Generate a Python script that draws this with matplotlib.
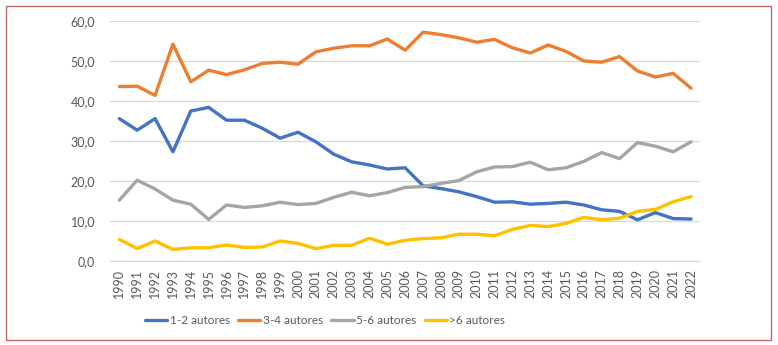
import matplotlib
matplotlib.use("Agg")
import matplotlib.pyplot as plt
from matplotlib.patches import Rectangle

years = list(range(1990, 2023))
autores_1_2 = [35.6, 32.7, 35.6, 27.3, 37.5, 38.4, 35.2, 35.2, 33.2, 30.7, 32.2, 29.8, 26.7, 24.8,
               24.0, 23.0, 23.3, 18.8, 18.1, 17.3, 16.1, 14.7, 14.8, 14.2, 14.4, 14.7, 14.0, 12.8,
               12.4, 10.3, 12.1, 10.6, 10.5]
autores_3_4 = [43.6, 43.7, 41.4, 54.2, 44.8, 47.7, 46.6, 47.8, 49.4, 49.7, 49.2, 52.3, 53.2, 53.8,
               53.8, 55.5, 52.7, 57.2, 56.6, 55.8, 54.7, 55.4, 53.3, 52.0, 54.0, 52.4, 50.0, 49.7,
               51.1, 47.5, 46.0, 46.9, 43.2]
autores_5_6 = [15.2, 20.2, 18.0, 15.2, 14.2, 10.4, 14.0, 13.4, 13.8, 14.7, 14.1, 14.4, 15.9, 17.2,
               16.3, 17.1, 18.4, 18.6, 19.4, 20.1, 22.3, 23.5, 23.6, 24.7, 22.8, 23.3, 24.9, 27.1,
               25.6, 29.6, 28.7, 27.3, 29.8]
autores_mas6 = [5.4, 3.1, 5.0, 2.9, 3.3, 3.3, 4.0, 3.4, 3.5, 5.0, 4.4, 3.1, 3.9, 3.9,
                5.7, 4.2, 5.2, 5.6, 5.8, 6.7, 6.7, 6.3, 7.9, 8.9, 8.6, 9.4, 10.9, 10.3,
                10.7, 12.4, 12.9, 14.8, 16.1]
series_labels = ["1-2 autores", "3-4 autores", "5-6 autores", ">6 autores"]
yticks = [0, 10, 20, 30, 40, 50, 60]

colors = ["#4472C4", "#ED7D31", "#A5A5A5", "#FFC000"]

plt.rcParams['font.family'] = ['Lato', 'DejaVu Sans']

fig = plt.figure(figsize=(7.78, 3.45), dpi=100)
ax = fig.add_axes([110.4 / 778, 1 - 261 / 345, (700 - 110.4) / 778, (261 - 21) / 345])

x = list(range(len(years)))
for data, lab, c in zip([autores_1_2, autores_3_4, autores_5_6, autores_mas6], series_labels, colors):
    ax.plot(x, data, color=c, lw=2.4, label=lab, solid_capstyle='round', solid_joinstyle='round')

ax.set_xlim(-0.5, len(years) - 0.5)
ax.set_ylim(0, 60)
ax.set_yticks(yticks)
ax.set_yticklabels([f"{v:.1f}".replace('.', ',') for v in yticks], fontsize=9, color="#595959")
ax.set_xticks(x)
ax.set_xticklabels([str(y) for y in years], rotation=90, fontsize=9, color="#595959")
ax.tick_params(length=0, pad=6)
ax.tick_params(axis='y', pad=11)
ax.grid(axis='y', color="#D9D9D9", lw=0.9)
ax.set_axisbelow(True)
for s in ['top', 'right', 'left']:
    ax.spines[s].set_visible(False)
ax.spines['bottom'].set_color("#D9D9D9")
ax.spines['bottom'].set_linewidth(0.9)

fig.legend(loc='center', bbox_to_anchor=(325 / 778, 1 - 321 / 345), ncol=4, frameon=False,
           fontsize=8.5, handlelength=1.9, columnspacing=0.7, handletextpad=0.2,
           labelcolor="#595959")

fig.patches.append(Rectangle((6 / 778, 1 - 340 / 345), (771 - 6) / 778, (340 - 6) / 345,
                             transform=fig.transFigure, fill=False, edgecolor="#B96A66", lw=1.0))

fig.savefig("out.png", dpi=100)
